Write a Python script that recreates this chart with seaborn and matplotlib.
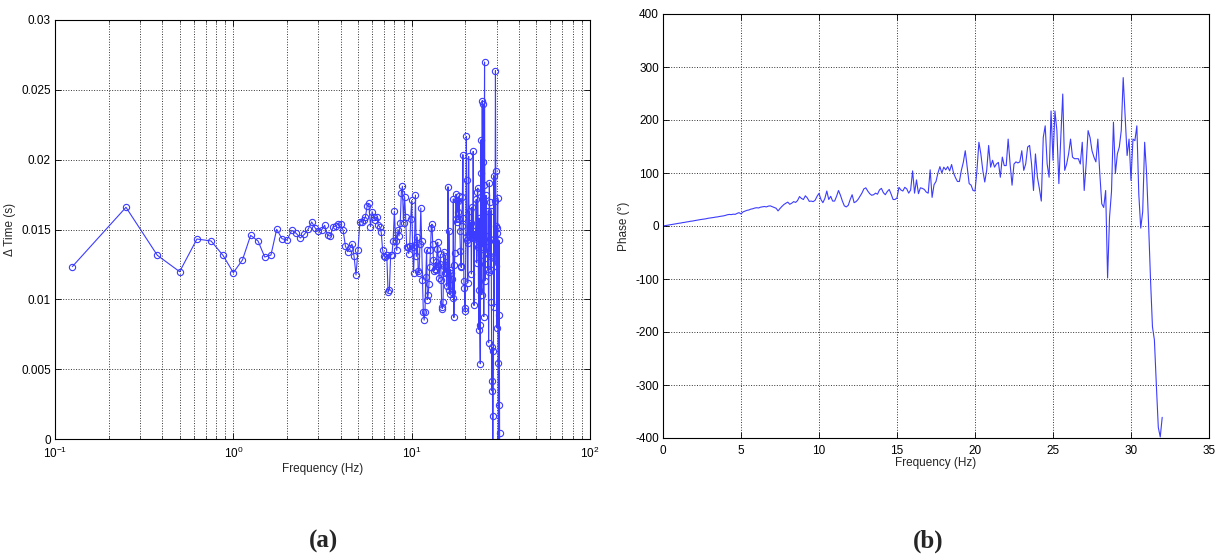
import numpy as np
import matplotlib
matplotlib.use("Agg")
import matplotlib.pyplot as plt
import seaborn as sns
from matplotlib.ticker import FixedLocator, FixedFormatter, LogLocator, NullFormatter

# ---------------- data ----------------
# frequency grid of the spectral estimate (0.125 Hz bins)
freq_step = 0.125
freq_left = np.arange(1, 251) * freq_step      # 0.125 ... 31.25 Hz
freq_right = np.arange(0, 257) * freq_step     # 0 ... 32 Hz

delay_s = [
    0.01234, 0.01659, 0.01315, 0.01198, 0.01432, 0.01418, 0.01315, 0.01191, 0.01282, 0.01458,
    0.01418, 0.01303, 0.01317, 0.01501, 0.01434, 0.01425, 0.01494, 0.01473, 0.01439, 0.01465,
    0.01501, 0.01554, 0.01511, 0.01489, 0.01496, 0.01530, 0.01458, 0.01453, 0.01520, 0.01525,
    0.01542, 0.01537, 0.01496, 0.01382, 0.01341, 0.01365, 0.01396, 0.01310, 0.01174, 0.01353,
    0.01556, 0.01556, 0.01568, 0.01587, 0.01668, 0.01687, 0.01520, 0.01628, 0.01587, 0.01570,
    0.01590, 0.01530, 0.01520, 0.01480, 0.01350, 0.01310, 0.01300, 0.01320, 0.01050, 0.01070,
    0.01320, 0.01320, 0.01420, 0.01630, 0.01420, 0.01350, 0.01500, 0.01454, 0.01546, 0.01762,
    0.01810, 0.01543, 0.01735, 0.01592, 0.01378, 0.01374, 0.01328, 0.01382, 0.01575, 0.01708,
    0.01372, 0.01192, 0.01392, 0.01746, 0.01307, 0.01447, 0.01201, 0.01187, 0.01398, 0.01654,
    0.01416, 0.01135, 0.00908, 0.00851, 0.00912, 0.01157, 0.01352, 0.00998, 0.01033, 0.01111,
    0.01232, 0.01351, 0.01510, 0.01538, 0.01397, 0.01279, 0.01205, 0.01214, 0.01264, 0.01212,
    0.01361, 0.01409, 0.01239, 0.01150, 0.01256, 0.01322, 0.01140, 0.00942, 0.00934, 0.00981,
    0.01341, 0.01239, 0.01192, 0.01308, 0.01244, 0.01093, 0.01190, 0.01806, 0.01068, 0.01487,
    0.01035, 0.01212, 0.01186, 0.01144, 0.01053, 0.01013, 0.01719, 0.00870, 0.01247, 0.01333,
    0.01576, 0.01753, 0.01554, 0.01713, 0.01625, 0.01705, 0.01572, 0.01742, 0.01491, 0.01348,
    0.01236, 0.01228, 0.01525, 0.01732, 0.02036, 0.01581, 0.01132, 0.01083, 0.00936, 0.00917,
    0.01449, 0.02167, 0.01854, 0.01423, 0.01118, 0.01406, 0.02023, 0.01468, 0.01631, 0.01451,
    0.01520, 0.01550, 0.01182, 0.01660, 0.01448, 0.01439, 0.02059, 0.01461, 0.00956, 0.01444,
    0.01486, 0.01453, 0.01469, 0.01715, 0.01261, 0.01398, 0.01771, 0.01797, 0.01376, 0.00784,
    0.01582, 0.01065, 0.00818, 0.00538, 0.01903, 0.02143, 0.01320, 0.01033, 0.02423, 0.01378,
    0.02399, 0.01980, 0.00876, 0.01819, 0.02699, 0.01133, 0.01256, 0.01453, 0.01744, 0.01376,
    0.01338, 0.01331, 0.01325, 0.01215, 0.01633, 0.00689, 0.01198, 0.01835, 0.01695, 0.01434,
    0.01307, 0.01211, 0.01634, 0.00982, 0.00415, 0.00344, 0.00656, -0.00955, 0.00165, 0.00628,
    0.01886, 0.00948, 0.01297, 0.01415, 0.01702, 0.02637, 0.01922, 0.01242, 0.01525, 0.00796,
    0.01512, 0.01478, 0.01728, 0.00546, -0.00036, 0.00244, 0.01422, 0.00887, 0.00045, -0.00890,
]

phase_deg = [
    0.0, 0.6, 1.3, 1.9, 2.5, 3.1, 3.8, 4.4,
    5.1, 5.5, 6.4, 6.8, 7.6, 8.1, 8.9, 9.3,
    10.0, 10.8, 11.2, 12.0, 12.5, 13.1, 13.6, 14.5,
    15.0, 15.4, 16.1, 16.8, 17.2, 18.0, 18.5, 19.1,
    20.0, 21.2, 21.8, 21.5, 22.3, 22.0, 23.8, 25.2,
    22.8, 26.5, 28.0, 29.5, 30.2, 31.8, 32.5, 33.8,
    34.5, 34.0, 35.5, 36.2, 36.8, 36.0, 37.5, 38.0,
    36.5, 35.0, 33.5, 28.5, 33.0, 37.0, 40.5, 43.0,
    45.0, 41.0, 43.0, 46.0, 44.5, 48.0, 55.5, 52.0,
    50.0, 57.0, 53.0, 46.5, 47.0, 46.0, 48.5, 56.0,
    61.5, 50.0, 44.0, 52.0, 66.0, 50.0, 56.0, 47.0,
    47.0, 56.0, 67.0, 58.0, 47.0, 38.0, 36.0, 39.0,
    50.0, 59.0, 44.0, 46.0, 50.0, 56.0, 62.0, 70.0,
    72.0, 66.0, 61.0, 58.0, 59.0, 62.0, 60.0, 68.0,
    71.0, 63.0, 59.0, 65.0, 69.0, 60.0, 50.0, 50.0,
    53.0, 73.0, 68.0, 66.0, 73.0, 70.0, 62.0, 68.0,
    104.0, 62.0, 87.0, 61.0, 72.0, 71.0, 69.0, 64.0,
    62.0, 106.0, 54.0, 78.0, 84.0, 100.0, 112.0, 100.0,
    111.0, 106.0, 112.0, 104.0, 116.0, 100.0, 91.0, 84.0,
    84.0, 105.0, 120.0, 142.0, 111.0, 80.0, 77.0, 67.0,
    66.0, 105.0, 158.0, 136.0, 105.0, 83.0, 105.0, 152.0,
    111.0, 124.0, 111.0, 117.0, 120.0, 92.0, 130.0, 114.0,
    114.0, 164.0, 117.0, 77.0, 117.0, 121.0, 119.0, 121.0,
    142.0, 105.0, 117.0, 149.0, 152.0, 117.0, 67.0, 136.0,
    92.0, 71.0, 47.0, 167.0, 189.0, 117.0, 92.0, 217.0,
    124.0, 217.0, 180.0, 80.0, 167.0, 249.0, 105.0, 117.0,
    136.0, 164.0, 130.0, 127.0, 127.0, 127.0, 117.0, 158.0,
    67.0, 117.0, 180.0, 167.0, 142.0, 130.0, 121.0, 164.0,
    99.0, 42.0, 35.0, 67.0, -98.0, 17.0, 65.0, 196.0,
    99.0, 136.0, 149.0, 180.0, 280.0, 205.0, 133.0, 164.0,
    86.0, 164.0, 161.0, 189.0, 60.0, -4.0, 27.0, 158.0,
    99.0, 5.0, -100.0, -190.0, -215.0, -300.0, -380.0, -398.0,
    -361.0,
]

left_xticks = [0.1, 1, 10, 100]
left_xticklabels = ["$10^{-1}$", "$10^{0}$", "$10^{1}$", "$10^{2}$"]
left_yticks = [0, 0.005, 0.01, 0.015, 0.02, 0.025, 0.03]
left_yticklabels = ["0", "0.005", "0.01", "0.015", "0.02", "0.025", "0.03"]
right_xticks = [0, 5, 10, 15, 20, 25, 30, 35]
right_xticklabels = ["0", "5", "10", "15", "20", "25", "30", "35"]
right_yticks = [-400, -300, -200, -100, 0, 100, 200, 300, 400]
right_yticklabels = ["-400", "-300", "-200", "-100", "0", "100", "200", "300", "400"]

# ---------------- style ----------------
sns.set_theme(style="white")
plt.rcParams["font.family"] = ["Liberation Sans", "DejaVu Sans"]
plt.rcParams["mathtext.default"] = "regular"

W, H = 1215, 560
fig = plt.figure(figsize=(W / 100, H / 100), dpi=100)
ax1 = fig.add_axes([55 / W, 1 - 439 / H, 535 / W, 419 / H])
ax2 = fig.add_axes([663 / W, 1 - 438 / H, 546 / W, 424 / H])

line_color = "#3c3cff"
sns.lineplot(x=freq_left, y=delay_s, ax=ax1, color=line_color, lw=0.8,
             marker="o", ms=4.5, mfc="none", mec=line_color, mew=0.8,
             sort=False, estimator=None)
sns.lineplot(x=freq_right, y=phase_deg, ax=ax2, color=line_color, lw=0.8,
             sort=False, estimator=None)

# left axes
ax1.set_xscale("log")
ax1.set_xlim(0.1, 100)
ax1.set_ylim(0, 0.03)
ax1.xaxis.set_major_locator(FixedLocator(left_xticks))
ax1.xaxis.set_major_formatter(FixedFormatter(left_xticklabels))
ax1.xaxis.set_minor_locator(LogLocator(base=10, subs=np.arange(2, 10)))
ax1.xaxis.set_minor_formatter(NullFormatter())
ax1.yaxis.set_major_locator(FixedLocator(left_yticks))
ax1.yaxis.set_major_formatter(FixedFormatter(left_yticklabels))
ax1.set_xlabel("Frequency (Hz)", fontsize=8.5, labelpad=1)
ax1.set_ylabel("Δ Time (s)", fontsize=8.5, labelpad=4)
ax1.grid(True, which="major", ls=":", color="#333333", lw=0.7)
ax1.grid(True, which="minor", axis="x", ls=":", color="#333333", lw=0.7)

# right axes
ax2.set_xlim(0, 35)
ax2.set_ylim(-400, 400)
ax2.xaxis.set_major_locator(FixedLocator(right_xticks))
ax2.xaxis.set_major_formatter(FixedFormatter(right_xticklabels))
ax2.yaxis.set_major_locator(FixedLocator(right_yticks))
ax2.yaxis.set_major_formatter(FixedFormatter(right_yticklabels))
ax2.set_xlabel("Frequency (Hz)", fontsize=8.5, labelpad=0)
ax2.set_ylabel("Phase (°)", fontsize=8.5, labelpad=4)
ax2.grid(True, which="major", ls=":", color="#333333", lw=0.7)

for ax in (ax1, ax2):
    ax.set_facecolor("white")
    for sp in ax.spines.values():
        sp.set_color("black")
        sp.set_linewidth(0.8)
    ax.tick_params(which="major", direction="in", length=4, width=0.6,
                   top=True, right=True, bottom=True, left=True,
                   labelsize=8.5, colors="black")
    ax.tick_params(axis="y", which="major", pad=3)
    ax.tick_params(axis="x", which="major", pad=5)
    ax.tick_params(which="minor", direction="in", length=2, width=0.5,
                   top=True, bottom=True)

fig.text(323 / W, 1 - 541 / H, "(a)", ha="center", va="center",
         fontsize=18, fontweight="bold", family="Liberation Serif")
fig.text(928 / W, 1 - 541 / H, "(b)", ha="center", va="center",
         fontsize=18, fontweight="bold", family="Liberation Serif")

fig.savefig("out.png", dpi=100, facecolor="white")
